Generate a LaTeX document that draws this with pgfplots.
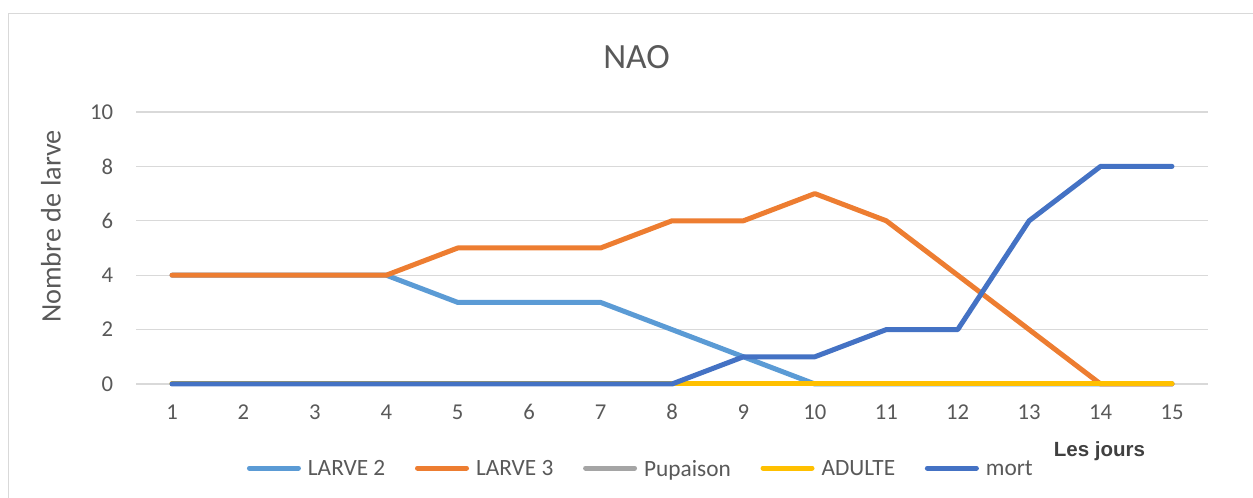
\documentclass[border=0pt]{standalone}
\usepackage{fontspec}
\setmainfont{Carlito}
\newfontfamily\arialfont{Liberation Sans}
\usepackage{pgfplots}
\pgfplotsset{compat=1.18}
\definecolor{txt}{HTML}{595959}
\definecolor{gridc}{HTML}{D9D9D9}
\definecolor{cA}{HTML}{5B9BD5}
\definecolor{cB}{HTML}{ED7D31}
\definecolor{cC}{HTML}{A5A5A5}
\definecolor{cD}{HTML}{FFC000}
\definecolor{cE}{HTML}{4472C4}
\definecolor{lesj}{HTML}{404040}
\begin{document}
\begin{tikzpicture}
\path[use as bounding box] (0pt,0pt) rectangle (939.75pt,373.5pt);
\draw[gridc, line width=1.1pt] (6.225pt,-7.5pt) -- (6.225pt,363.5pt) -- (952.5pt,363.5pt);
\begin{axis}[
  at={(102.225pt,85.5pt)}, anchor=south west,
  scale only axis, width=803.55pt, height=204pt,
  xmin=0.5, xmax=15.5, ymin=0, ymax=10,
  xtick={1,...,15}, ytick={0,2,...,10},
  axis line style={draw=none},
  major tick length=0pt,
  ymajorgrids, grid style={gridc, line width=0.9pt},
  /pgf/number format/assume math mode=true,
  tick label style={font=\fontsize{17}{20}\selectfont, text=txt, inner sep=0pt},
  yticklabel style={anchor=east, xshift=-17.25pt},
  xticklabel style={anchor=center, yshift=-21pt},
  every axis plot/.append style={line width=3.75pt, line cap=round, line join=round},
  clip=false,
  legend style={at={(0.47,-0.309)}, anchor=center, draw=none, fill=none,
    font=\fontsize{17.5}{20}\selectfont, text=txt,
    nodes={inner sep=0pt, text depth=0pt},
    /tikz/every odd column/.append style={column sep=5.25pt},
    /tikz/every even column/.append style={column sep=22.25pt}},
  legend columns=5,
  legend image code/.code={\draw[#1, line width=3.75pt, line cap=round] (0pt,0pt) -- (36.75pt,0pt);},
]
\addplot[cA] coordinates {(1,4)(2,4)(3,4)(4,4)(5,3)(6,3)(7,3)(8,2)(9,1)(10,0)(11,0)(12,0)(13,0)(14,0)(15,0)};
\addlegendentry{LARVE 2}
\addplot[cB] coordinates {(1,4)(2,4)(3,4)(4,4)(5,5)(6,5)(7,5)(8,6)(9,6)(10,7)(11,6)(12,4)(13,2)(14,0)(15,0)};
\addlegendentry{LARVE 3}
\addplot[cC] coordinates {(1,0)(2,0)(3,0)(4,0)(5,0)(6,0)(7,0)(8,0)(9,0)(10,0)(11,0)(12,0)(13,0)(14,0)(15,0)};
\addlegendentry{Pupaison}
\addplot[cD] coordinates {(1,0)(2,0)(3,0)(4,0)(5,0)(6,0)(7,0)(8,0)(9,0)(10,0)(11,0)(12,0)(13,0)(14,0)(15,0)};
\addlegendentry{ADULTE}
\addplot[cE] coordinates {(1,0)(2,0)(3,0)(4,0)(5,0)(6,0)(7,0)(8,0)(9,1)(10,1)(11,2)(12,2)(13,6)(14,8)(15,8)};
\addlegendentry{mort}
\end{axis}
\node[rotate=90, font=\fontsize{21.2}{24}\selectfont, text=txt] at (38.25pt,203.6pt) {Nombre de larve};
\node[font=\fontsize{26.6}{30}\selectfont, text=txt] at (477.4pt,330.75pt) {NAO};
\node[anchor=base, font=\arialfont\bfseries\fontsize{15.4}{18}\selectfont, text=lesj] at (824.6pt,31.2pt) {Les jours};
\end{tikzpicture}
\end{document}
